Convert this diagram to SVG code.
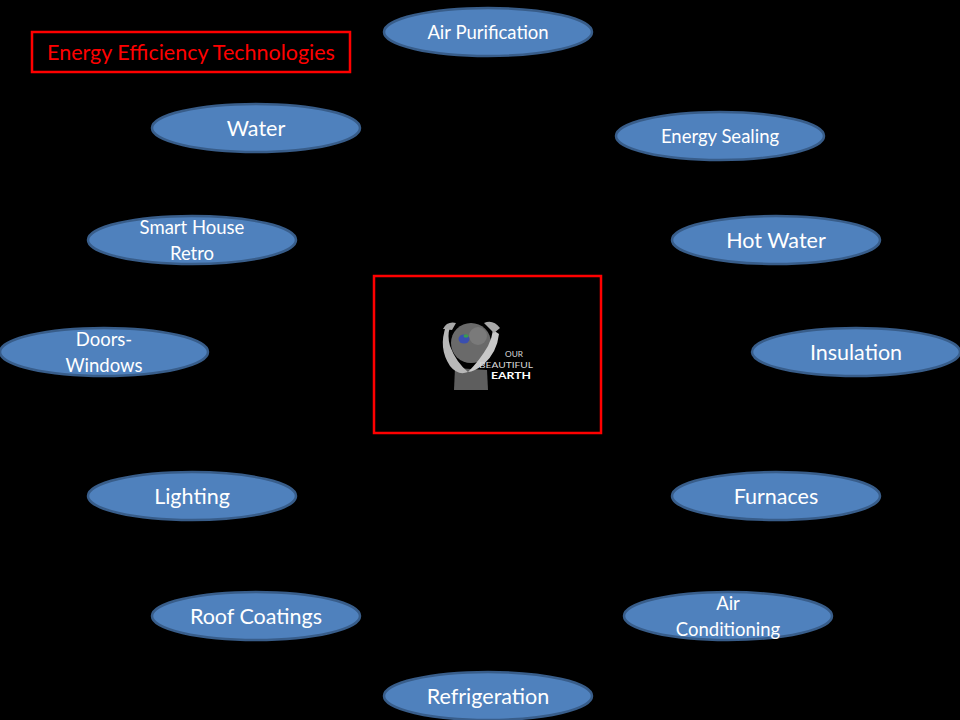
<svg xmlns="http://www.w3.org/2000/svg" width="960" height="720" viewBox="0 0 960 720">
<style>
.n ellipse{fill:#4F81BD;stroke:#385D8A;stroke-width:2.5}
.t{font-family:Lato,"Liberation Sans",sans-serif;fill:#FFFFFF;text-anchor:middle;dominant-baseline:central}
.l{font-size:21.5px}
.s{font-size:18.5px}
.red{fill:none;stroke:#FF0000;stroke-width:2.5}
.logo{font-family:Lato,"Liberation Sans",sans-serif;fill:#D8D8D8;font-size:8px}
</style>
<rect width="960" height="720" fill="#000000"/>
<g id="title">
<rect class="red" x="32" y="32" width="318" height="40"/>
<text class="t" x="191" y="52" style="fill:#FF0000;font-size:21.5px">Energy Efficiency Technologies</text>
</g>
<g id="connectors"></g>
<g id="center">
<rect x="374" y="276" width="227" height="157" fill="#000000" stroke="#FF0000" stroke-width="2.5"/>
<path d="M455 368 L454 390 L488 390 L487 370 Z" fill="#5E5E5E"/>
<circle cx="471" cy="343" r="20" fill="#6A6A6A"/>
<circle cx="478" cy="336" r="9" fill="#7A7A7A"/>
<path d="M446 326 Q438 348 450 366 Q458 376 468 372 Q456 362 450 346 Q447 336 450 327 Z" fill="#B8B8B8"/>
<path d="M499 334 Q497 352 484 364 Q474 372 468 372 Q480 360 488 346 Q492 338 493 330 Z" fill="#C8C8C8"/>
<path d="M443 329 Q447 321 456 323 L452 330 Z M484 323 Q493 319 500 328 L494 333 Z" fill="#A8A8A8"/>
<ellipse cx="464" cy="339" rx="5.5" ry="4.5" fill="#3A4FB0"/>
<ellipse cx="466" cy="336" rx="2.5" ry="1.8" fill="#3C9A50"/>
<text class="logo" x="505" y="357" textLength="18" lengthAdjust="spacingAndGlyphs">OUR</text>
<text class="logo" x="479" y="367.5" textLength="54" lengthAdjust="spacingAndGlyphs">BEAUTIFUL</text>
<text class="logo" x="491" y="378.5" textLength="40" lengthAdjust="spacingAndGlyphs" style="font-weight:bold;fill:#FFFFFF;font-size:9px">EARTH</text>
</g>
<g id="air-purification" class="n"><ellipse cx="488" cy="32" rx="104" ry="24"/><text class="t s" x="488" y="32">Air Purification</text></g>
<g id="water" class="n"><ellipse cx="256" cy="128" rx="104" ry="24"/><text class="t l" x="256" y="128">Water</text></g>
<g id="energy-sealing" class="n"><ellipse cx="720" cy="136" rx="104" ry="24"/><text class="t s" x="720" y="136">Energy Sealing</text></g>
<g id="smart-house" class="n"><ellipse cx="192" cy="240" rx="104" ry="24"/><text class="t s" x="192" y="227">Smart House</text><text class="t s" x="192" y="253">Retro</text></g>
<g id="hot-water" class="n"><ellipse cx="776" cy="240" rx="104" ry="24"/><text class="t l" x="776" y="240">Hot Water</text></g>
<g id="doors-windows" class="n"><ellipse cx="104" cy="352" rx="104" ry="24"/><text class="t s" x="104" y="339">Doors-</text><text class="t s" x="104" y="365">Windows</text></g>
<g id="insulation" class="n"><ellipse cx="856" cy="352" rx="104" ry="24"/><text class="t l" x="856" y="352">Insulation</text></g>
<g id="lighting" class="n"><ellipse cx="192" cy="496" rx="104" ry="24"/><text class="t l" x="192" y="496">Lighting</text></g>
<g id="furnaces" class="n"><ellipse cx="776" cy="496" rx="104" ry="24"/><text class="t l" x="776" y="496">Furnaces</text></g>
<g id="roof-coatings" class="n"><ellipse cx="256" cy="616" rx="104" ry="24"/><text class="t l" x="256" y="616">Roof Coatings</text></g>
<g id="air-conditioning" class="n"><ellipse cx="728" cy="616" rx="104" ry="24"/><text class="t s" x="728" y="603">Air</text><text class="t s" x="728" y="629">Conditioning</text></g>
<g id="refrigeration" class="n"><ellipse cx="488" cy="696" rx="104" ry="24"/><text class="t l" x="488" y="696">Refrigeration</text></g>
</svg>
